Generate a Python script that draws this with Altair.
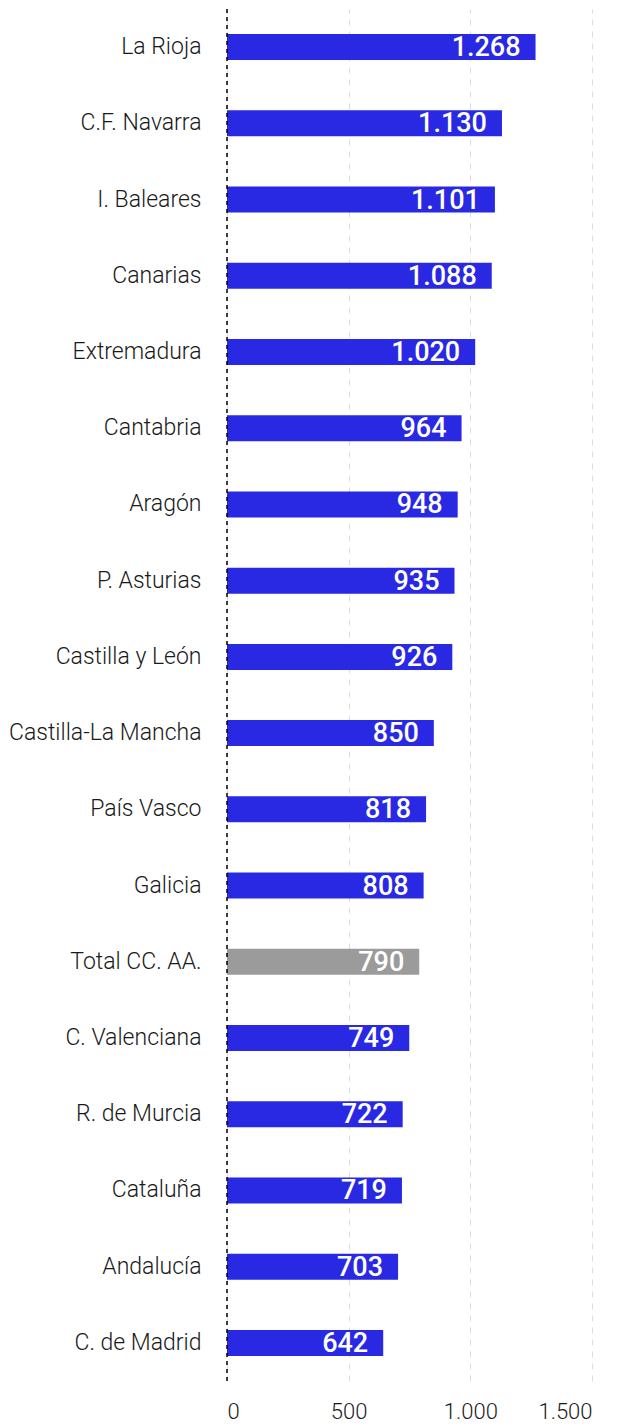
import altair as alt
import pandas as pd

regions = ["La Rioja", "C.F. Navarra", "I. Baleares", "Canarias", "Extremadura",
           "Cantabria", "Aragón", "P. Asturias", "Castilla y León", "Castilla-La Mancha",
           "País Vasco", "Galicia", "Total CC. AA.", "C. Valenciana", "R. de Murcia",
           "Cataluña", "Andalucía", "C. de Madrid"]
values = [1268, 1130, 1101, 1088, 1020, 964, 948, 935, 926, 850,
          818, 808, 790, 749, 722, 719, 703, 642]
highlight = ["Total CC. AA."]

df = pd.DataFrame({
    "region": regions,
    "value": values,
    "label": [f"{v:,}".replace(",", ".") for v in values],
    "kind": ["total" if r in highlight else "ca" for r in regions],
})

W, H = 365, 1372
LIGHT = "Roboto Light, Roboto"

y = alt.Y("region:N", sort=regions, title=None,
          scale=alt.Scale(paddingInner=0, paddingOuter=0),
          axis=alt.Axis(domain=False, ticks=False, labelFont=LIGHT, labelFontWeight=300,
                        labelFontSize=23, labelColor="#1a1a1a", labelPadding=26,
                        labelLimit=400, minExtent=218, maxExtent=218))
x = alt.X("value:Q", title=None,
          scale=alt.Scale(domain=[0, 1500], nice=False),
          axis=alt.Axis(values=[0, 500, 1000, 1500], domain=False, ticks=False,
                        grid=True, gridColor="#dddddd", gridDash=[6, 6], gridWidth=1,
                        labelFont=LIGHT, labelFontWeight=300, labelFontSize=22,
                        labelColor="#1a1a1a", labelPadding=20,
                        labelExpr="replace(format(datum.value, ','), ',', '.')"))

base = alt.Chart(df)

bars = base.mark_bar(size=26).encode(
    x=x, y=y,
    color=alt.Color("kind:N", scale=alt.Scale(domain=["ca", "total"],
                                              range=["#2929E3", "#9B9B9B"]), legend=None),
)

labels = base.mark_text(align="right", baseline="middle", dx=-15, dy=1,
                        font="Roboto", fontWeight=500, fontSize=27, color="white").encode(
    x="value:Q", y=alt.Y("region:N", sort=regions), text="label:N")

zero = alt.Chart(pd.DataFrame({"z": [0]})).mark_rule(
    color="black", strokeDash=[4, 4], strokeWidth=1.5).encode(x="z:Q")

chart = alt.layer(bars, zero, labels).properties(
    width=W, height=H,
    padding={"top": 0, "left": 0, "right": 2, "bottom": 0},
).configure_view(stroke=None)

chart.save("out.html", embed_options={"renderer": "svg", "actions": False})
